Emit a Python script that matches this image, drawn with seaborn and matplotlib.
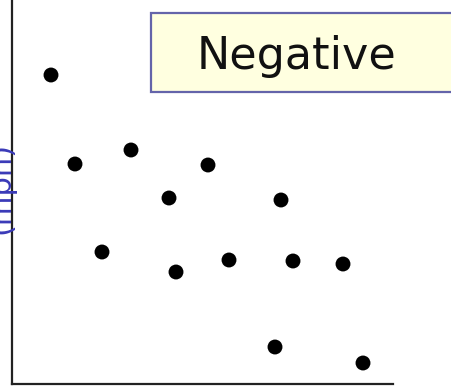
import matplotlib
matplotlib.use("Agg")
import matplotlib.pyplot as plt
import seaborn as sns
import pandas as pd
from matplotlib.patches import Rectangle

# Data (arbitrary units)
x_vals = [39, 63, 119, 157, 90, 164, 196, 217, 269, 281, 331, 263, 351]
y_vals = [309, 220, 234, 186, 132, 112, 219, 124, 184, 123, 120, 37, 21]
title_text = "Negative"
ylabel_text = "(mph)"

df = pd.DataFrame({"x": x_vals, "y": y_vals})

sns.set_style("white")
plt.rcParams['font.family'] = ['DejaVu Sans']

fig = plt.figure(figsize=(4.52, 3.87), dpi=100)
ax = fig.add_axes([12/452, 3/387, 381/452, 384/387])
sns.scatterplot(data=df, x="x", y="y", ax=ax, color="black", s=115,
                edgecolor="none", legend=False)
ax.set_xlim(0, 381)
ax.set_ylim(0, 384)
ax.set_xticks([])
ax.set_yticks([])
ax.set_xlabel("")
ax.set_ylabel("")
for side in ["top", "right"]:
    ax.spines[side].set_visible(False)
for side in ["left", "bottom"]:
    ax.spines[side].set_color("#222222")
    ax.spines[side].set_linewidth(1.6)

# Title box (extends beyond the right edge)
rect = Rectangle((151/452, 1 - 92/387), 320/452, 79/387, transform=fig.transFigure,
                 facecolor="#ffffe0", edgecolor="#6464aa", linewidth=1.6, zorder=5)
fig.patches.append(rect)
fig.text(297/452, 1 - 57/387, title_text, ha="center", va="center",
         fontsize=32, color="#111111", zorder=6)

# Partially visible y label
fig.text(15/452, 1 - 188/387, ylabel_text, rotation=90, ha="right", va="center",
         fontsize=22, color="#3a3ab8")

fig.savefig("out.png", dpi=100)
